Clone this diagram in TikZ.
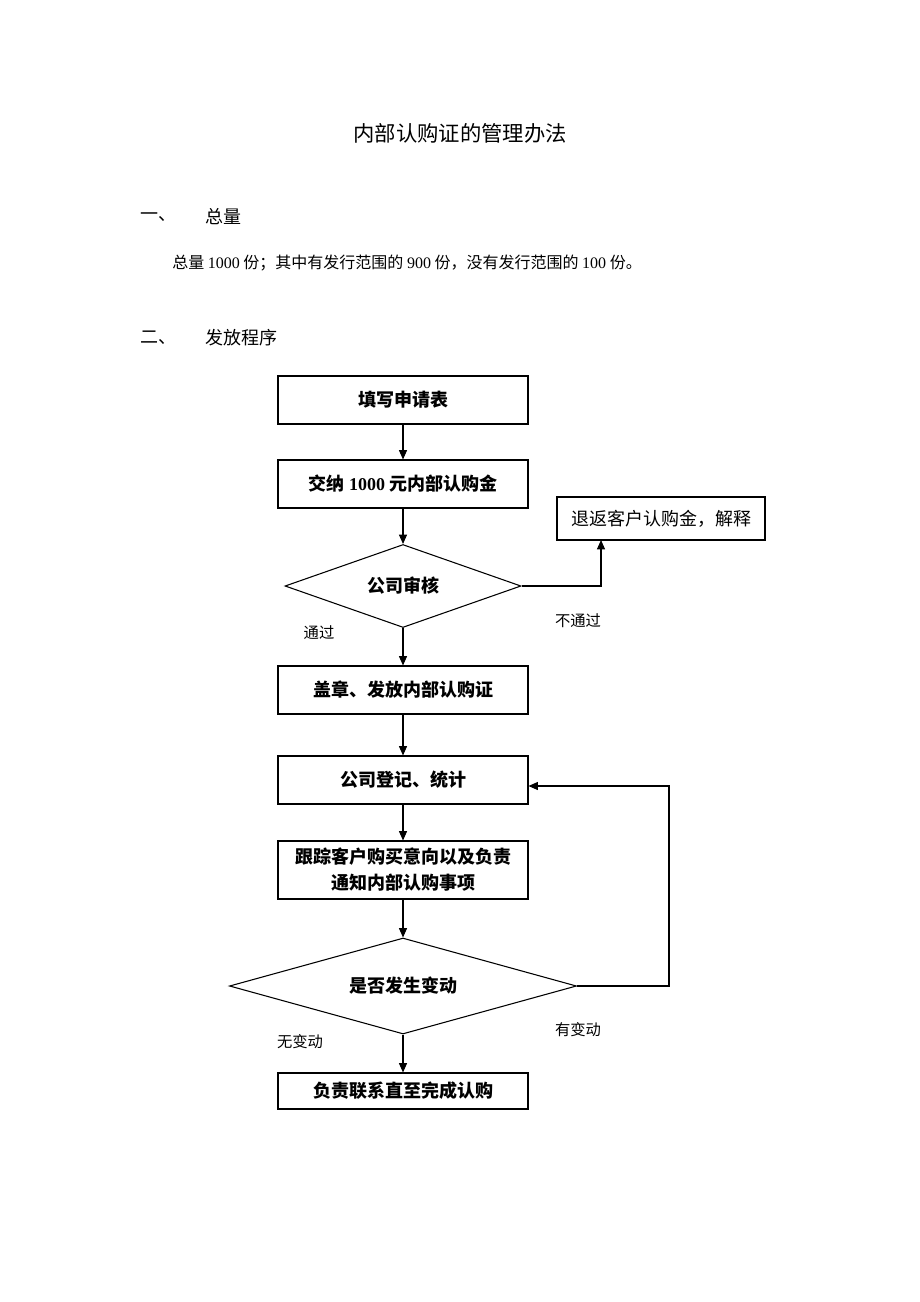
\documentclass[tikz,border=0pt]{standalone}
\usepackage{fontspec}
\setmainfont{Liberation Serif}
\newfontfamily\cjk{Noto Sans CJK SC}
\usetikzlibrary{shapes.geometric,arrows.meta}
\tikzset{
  stepbox/.style={draw, line width=0.8pt, minimum width=187.5pt, minimum height=36pt,
    inner sep=2pt, align=center, font=\cjk\bfseries\fontsize{13.5pt}{19.5pt}\selectfont},
  sidebox/.style={draw, line width=0.8pt, minimum width=156pt, minimum height=32.25pt,
    inner sep=2pt, font=\cjk\fontsize{13.5pt}{16pt}\selectfont},
  check/.style={draw, diamond, line width=0.8pt, inner sep=0pt,
    font=\cjk\bfseries\fontsize{13.5pt}{16pt}\selectfont},
  branch/.style={font=\cjk\fontsize{11.5pt}{14pt}\selectfont},
  heading/.style={anchor=west, inner sep=0pt, font=\cjk\fontsize{13.5pt}{16pt}\selectfont},
  flow/.style={line width=0.8pt, -{Triangle[length=7pt,width=6pt]}}
}
\begin{document}
\begin{tikzpicture}[x=0.75pt,y=-0.75pt]
\useasboundingbox (0,0) rectangle (920,1302);
% headings
\node[font=\cjk\fontsize{16pt}{19pt}\selectfont] (title) at (460,133) {内部认购证的管理办法};
\node[heading] (num1) at (140,217) {一、};
\node[heading] (sec1) at (205,217) {总量};
\node[anchor=west, inner sep=0pt, font=\cjk\fontsize{12pt}{14pt}\selectfont] (total) at (172,263)
  {总量 {\rmfamily 1000} 份；其中有发行范围的 {\rmfamily 900} 份，没有发行范围的 {\rmfamily 100} 份。};
\node[heading] (num2) at (140,338) {二、};
\node[heading] (sec2) at (205,338) {发放程序};
% flow chart
\node[stepbox] (fill) at (403,400) {填写申请表};
\node[stepbox] (pay) at (403,484) {交纳 {\rmfamily 1000} 元内部认购金};
\node[check, aspect=2.84, minimum width=177pt, minimum height=62.25pt] (audit) at (403,586) {公司审核};
\node[sidebox] (refund) at (661,518.5) {退返客户认购金，解释};
\node[stepbox] (stamp) at (403,690) {盖章、发放内部认购证};
\node[stepbox] (record) at (403,780) {公司登记、统计};
\node[stepbox, minimum height=43.5pt] (track) at (403,870) {跟踪客户购买意向以及负责\\通知内部认购事项};
\node[check, aspect=3.6, minimum width=260.25pt, minimum height=72pt] (change) at (403,986) {是否发生变动};
\node[stepbox, minimum height=27pt] (finish) at (403,1091) {负责联系直至完成认购};
% branch labels
\node[branch] (pass) at (319,633) {通过};
\node[branch] (fail) at (578,621) {不通过};
\node[branch] (moved) at (578,1030) {有变动};
\node[branch] (still) at (300,1042) {无变动};
\coordinate (refundin) at (601,540);
\coordinate (loop) at (669,986);
% connectors
\draw[flow] (fill) -- (pay);
\draw[flow] (pay) -- (audit.north);
\draw[flow] (audit.south) -- (stamp);
\draw[flow] (stamp) -- (record);
\draw[flow] (record) -- (track);
\draw[flow] (track) -- (change.north);
\draw[flow] (change.south) -- (finish);
\draw[flow] (audit.east) -| (refundin);
\draw[flow] (change.east) -- (loop) |- ([yshift=-4.5pt]record.east);
\end{tikzpicture}
\end{document}
